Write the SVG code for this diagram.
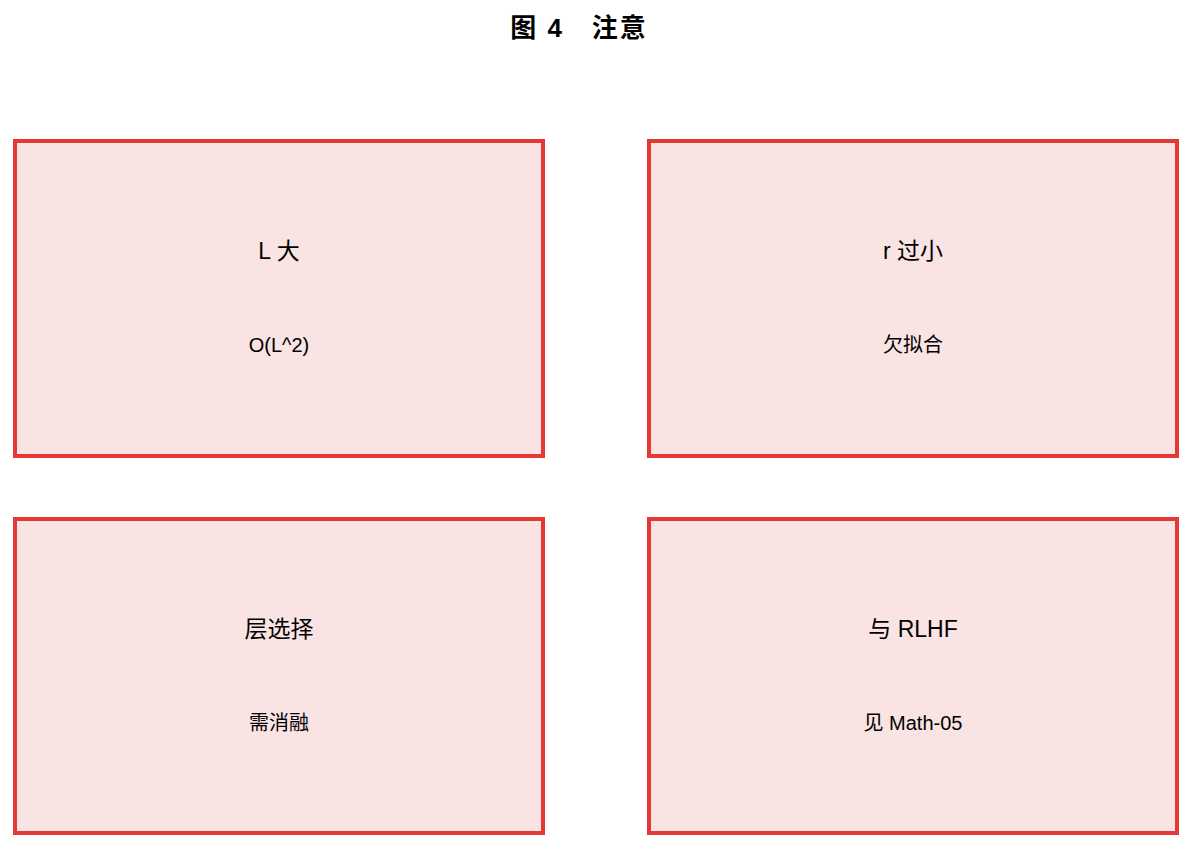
<svg xmlns="http://www.w3.org/2000/svg" width="1192" height="849" viewBox="0 0 1192 849">
<style>
.box{fill:#f9e3e3;stroke:#e53935;stroke-width:4}
text{font-family:"Liberation Sans","Noto Sans CJK SC",sans-serif;fill:#000;text-anchor:middle}
.t{font-size:26px;font-weight:bold;letter-spacing:2px}
.h{font-size:23px}
.s{font-size:20px}
</style>
<rect width="1192" height="849" fill="#fff"/>
<text class="t" x="579" y="37">图 4　注意</text>
<g id="connectors"/>
<g id="n1"><rect class="box" x="15" y="141" width="528" height="315"/><text class="h" x="279" y="259">L 大</text><text class="s" x="279" y="352">O(L^2)</text></g>
<g id="n2"><rect class="box" x="649" y="141" width="528" height="315"/><text class="h" x="913" y="259">r 过小</text><text class="s" x="913" y="352">欠拟合</text></g>
<g id="n3"><rect class="box" x="15" y="519" width="528" height="314"/><text class="h" x="279" y="637">层选择</text><text class="s" x="279" y="730">需消融</text></g>
<g id="n4"><rect class="box" x="649" y="519" width="528" height="314"/><text class="h" x="913" y="637">与 RLHF</text><text class="s" x="913" y="730">见 Math-05</text></g>
</svg>
